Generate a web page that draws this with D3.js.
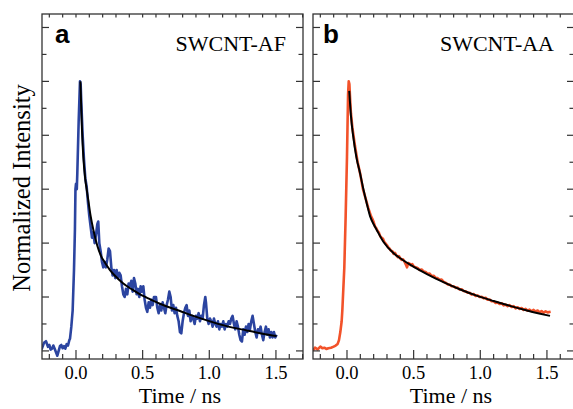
<!DOCTYPE html>
<html>
<head>
<meta charset="utf-8">
<script src="https://cdn.jsdelivr.net/npm/d3@7"></script>
<style>
  body { margin: 0; background: #fff; }
  svg { display: block; }
</style>
</head>
<body>
<div id="chart"></div>
<script>
// DATA (time in ns, normalized intensity)
const panelNames = ["SWCNT-AF", "SWCNT-AA"];
const panelLetters = ["a", "b"];
const xTickLabels = [0.0, 0.5, 1.0, 1.5];

const blueData = [
  [-0.27, 0.0], [-0.255, 0.01], [-0.24, 0.03], [-0.225, 0.036], [-0.21, 0.015], [-0.2, 0.022],
  [-0.19, 0.005], [-0.18, 0.008], [-0.17, 0.02], [-0.16, 0.008], [-0.15, -0.005], [-0.14, -0.018],
  [-0.13, 0.0], [-0.12, 0.018], [-0.11, 0.022], [-0.1, 0.01], [-0.09, 0.018], [-0.08, 0.008],
  [-0.07, 0.025], [-0.06, 0.02], [-0.05, 0.04], [-0.045, 0.045], [-0.035, 0.09], [-0.025, 0.15],
  [-0.015, 0.3], [-0.008, 0.45], [-0.004, 0.6], [0.0, 0.62], [0.006, 0.6], [0.01, 0.66],
  [0.02, 0.85], [0.03, 1.0], [0.035, 0.99], [0.04, 0.92], [0.05, 0.8], [0.06, 0.71],
  [0.07, 0.64], [0.08, 0.61], [0.09, 0.55], [0.1, 0.5], [0.11, 0.46], [0.12, 0.42],
  [0.13, 0.44], [0.14, 0.4], [0.15, 0.43], [0.16, 0.47], [0.167, 0.48], [0.175, 0.4],
  [0.185, 0.37], [0.195, 0.33], [0.205, 0.31], [0.215, 0.33], [0.225, 0.31], [0.235, 0.34],
  [0.245, 0.38], [0.255, 0.37], [0.265, 0.31], [0.275, 0.28], [0.285, 0.3], [0.295, 0.27],
  [0.305, 0.3], [0.315, 0.27], [0.325, 0.29], [0.335, 0.28], [0.345, 0.24], [0.355, 0.21],
  [0.365, 0.2], [0.375, 0.23], [0.385, 0.21], [0.395, 0.25], [0.405, 0.24], [0.415, 0.26],
  [0.425, 0.22], [0.435, 0.27], [0.445, 0.25], [0.455, 0.21], [0.465, 0.23], [0.475, 0.2],
  [0.485, 0.24], [0.495, 0.22], [0.505, 0.24], [0.515, 0.19], [0.525, 0.16], [0.535, 0.145],
  [0.545, 0.18], [0.555, 0.16], [0.565, 0.19], [0.575, 0.17], [0.585, 0.2], [0.6, 0.2],
  [0.61, 0.16], [0.62, 0.14], [0.63, 0.17], [0.64, 0.15], [0.65, 0.18], [0.66, 0.16],
  [0.67, 0.14], [0.68, 0.17], [0.69, 0.19], [0.7, 0.22], [0.71, 0.2], [0.72, 0.15],
  [0.73, 0.17], [0.74, 0.14], [0.75, 0.16], [0.76, 0.13], [0.77, 0.11], [0.78, 0.07],
  [0.79, 0.065], [0.8, 0.11], [0.81, 0.14], [0.82, 0.16], [0.83, 0.17], [0.84, 0.13],
  [0.85, 0.15], [0.86, 0.11], [0.87, 0.13], [0.88, 0.12], [0.89, 0.1], [0.9, 0.13],
  [0.91, 0.12], [0.92, 0.14], [0.93, 0.11], [0.94, 0.13], [0.95, 0.12], [0.96, 0.17],
  [0.97, 0.2], [0.975, 0.18], [0.985, 0.12], [0.995, 0.1], [1.005, 0.12], [1.015, 0.11],
  [1.025, 0.09], [1.035, 0.12], [1.045, 0.1], [1.055, 0.09], [1.065, 0.11], [1.075, 0.08],
  [1.085, 0.1], [1.095, 0.09], [1.105, 0.11], [1.115, 0.08], [1.125, 0.1], [1.135, 0.09],
  [1.145, 0.11], [1.155, 0.1], [1.165, 0.12], [1.175, 0.13], [1.185, 0.1], [1.195, 0.08],
  [1.205, 0.11], [1.215, 0.09], [1.225, 0.06], [1.235, 0.04], [1.245, 0.035], [1.255, 0.08],
  [1.265, 0.06], [1.275, 0.09], [1.285, 0.07], [1.295, 0.1], [1.305, 0.08], [1.315, 0.11],
  [1.325, 0.13], [1.335, 0.1], [1.345, 0.07], [1.355, 0.05], [1.365, 0.08], [1.375, 0.07],
  [1.385, 0.09], [1.395, 0.06], [1.405, 0.04], [1.415, 0.07], [1.425, 0.09], [1.435, 0.06],
  [1.445, 0.08], [1.455, 0.05], [1.465, 0.07], [1.475, 0.05], [1.485, 0.07], [1.495, 0.05],
  [1.505, 0.06]
];

const blueFit = [
  [0.033, 1.0], [0.045, 0.82], [0.055, 0.72], [0.07, 0.635], [0.08, 0.6], [0.092, 0.56],
  [0.11, 0.5], [0.13, 0.45], [0.16, 0.39], [0.19, 0.35], [0.205, 0.337], [0.255, 0.3],
  [0.3, 0.275], [0.355, 0.25], [0.42, 0.228], [0.48, 0.21], [0.53, 0.198], [0.63, 0.175],
  [0.78, 0.148], [0.88, 0.13], [1.03, 0.106], [1.13, 0.092], [1.28, 0.076], [1.4, 0.064],
  [1.505, 0.055]
];

const orangeData = [
  [-0.27, 0.0], [-0.25, 0.005], [-0.24, 0.012], [-0.22, 0.006], [-0.2, 0.016], [-0.185, 0.01],
  [-0.17, 0.012], [-0.155, 0.007], [-0.14, 0.01], [-0.12, 0.012], [-0.1, 0.016], [-0.085, 0.02],
  [-0.07, 0.026], [-0.06, 0.04], [-0.05, 0.07], [-0.04, 0.11], [-0.035, 0.15], [-0.02, 0.31],
  [-0.01, 0.5], [0.0, 0.72], [0.008, 0.95], [0.013, 1.0], [0.018, 0.99], [0.025, 0.92],
  [0.03, 0.88], [0.04, 0.83], [0.06, 0.76], [0.08, 0.7], [0.1, 0.655], [0.12, 0.6],
  [0.14, 0.565], [0.16, 0.53], [0.18, 0.5], [0.19, 0.49], [0.2, 0.478], [0.21, 0.462],
  [0.22, 0.455], [0.23, 0.445], [0.24, 0.438], [0.25, 0.425], [0.26, 0.42], [0.27, 0.416],
  [0.28, 0.404], [0.29, 0.398], [0.3, 0.392], [0.31, 0.384], [0.32, 0.379], [0.33, 0.372],
  [0.34, 0.37], [0.35, 0.36], [0.36, 0.364], [0.37, 0.355], [0.38, 0.348], [0.39, 0.352],
  [0.4, 0.343], [0.41, 0.338], [0.42, 0.34], [0.43, 0.333], [0.44, 0.322], [0.45, 0.31],
  [0.46, 0.326], [0.47, 0.324], [0.48, 0.318], [0.49, 0.322], [0.5, 0.314], [0.515, 0.31],
  [0.53, 0.308], [0.545, 0.3], [0.56, 0.302], [0.575, 0.295], [0.59, 0.293], [0.605, 0.286],
  [0.62, 0.287], [0.635, 0.278], [0.65, 0.279], [0.665, 0.271], [0.68, 0.27], [0.695, 0.264],
  [0.71, 0.265], [0.725, 0.256], [0.74, 0.253], [0.755, 0.247], [0.77, 0.246], [0.785, 0.24],
  [0.8, 0.24], [0.815, 0.234], [0.83, 0.235], [0.845, 0.228], [0.86, 0.229], [0.875, 0.222],
  [0.89, 0.221], [0.905, 0.216], [0.92, 0.216], [0.935, 0.209], [0.95, 0.211], [0.965, 0.204],
  [0.98, 0.206], [0.995, 0.2], [1.01, 0.201], [1.025, 0.195], [1.04, 0.197], [1.055, 0.19],
  [1.07, 0.191], [1.085, 0.184], [1.1, 0.184], [1.115, 0.178], [1.13, 0.18], [1.145, 0.174],
  [1.16, 0.177], [1.175, 0.169], [1.19, 0.172], [1.205, 0.166], [1.22, 0.17], [1.235, 0.163],
  [1.25, 0.166], [1.265, 0.158], [1.28, 0.162], [1.295, 0.156], [1.31, 0.159], [1.325, 0.152],
  [1.34, 0.156], [1.355, 0.149], [1.37, 0.153], [1.385, 0.147], [1.4, 0.152], [1.415, 0.146],
  [1.43, 0.15], [1.445, 0.143], [1.46, 0.148], [1.475, 0.142], [1.49, 0.147], [1.505, 0.143],
  [1.528, 0.145]
];

const orangeFit = [
  [0.017, 0.965], [0.03, 0.87], [0.047, 0.795], [0.07, 0.72], [0.098, 0.659], [0.123, 0.6],
  [0.148, 0.548], [0.173, 0.5], [0.2, 0.47], [0.223, 0.449], [0.273, 0.405], [0.348, 0.363],
  [0.41, 0.34], [0.473, 0.32], [0.6, 0.285], [0.723, 0.255], [0.85, 0.228], [0.973, 0.205],
  [1.1, 0.185], [1.223, 0.167], [1.35, 0.15], [1.45, 0.138], [1.523, 0.13]
];

const seriesColors = ["#2b44a0", "#f2522a"];

// LAYOUT
const W = 573, H = 409;
const panelLeft = [42, 313];
const panelWidth = 261;
const plotTop = 14, plotBottom = 359;
const frameColor = "#333";

const svg = d3.select("#chart").append("svg")
    .attr("width", W)
    .attr("height", H);

const y = d3.scaleLinear().domain([-0.03, 1.25]).range([plotBottom, plotTop]);

const panels = [
  { data: blueData, fit: blueFit, color: seriesColors[0] },
  { data: orangeData, fit: orangeFit, color: seriesColors[1] }
];

panels.forEach((p, i) => {
    const x0 = panelLeft[i];
    const x = d3.scaleLinear().domain([-0.255, 1.703]).range([x0, x0 + panelWidth]);
    const g = svg.append("g");

    // clip
    const clipId = "clip" + i;
    svg.append("clipPath").attr("id", clipId)
        .append("rect")
        .attr("x", x0).attr("y", plotTop)
        .attr("width", panelWidth).attr("height", plotBottom - plotTop);

    // data line
    const line = d3.line().x(d => x(d[0])).y(d => y(d[1]));
    g.append("path")
        .datum(p.data)
        .attr("clip-path", `url(#${clipId})`)
        .attr("fill", "none")
        .attr("stroke", p.color)
        .attr("stroke-width", 2.6)
        .attr("stroke-linejoin", "round")
        .attr("d", line);

    // fit line
    g.append("path")
        .datum(p.fit)
        .attr("fill", "none")
        .attr("stroke", "#000")
        .attr("stroke-width", 2)
        .attr("d", d3.line().x(d => x(d[0])).y(d => y(d[1])).curve(d3.curveMonotoneX));

    // frame
    g.append("rect")
        .attr("x", x0).attr("y", plotTop)
        .attr("width", panelWidth).attr("height", plotBottom - plotTop)
        .attr("fill", "none")
        .attr("stroke", frameColor)
        .attr("stroke-width", 1.3);

    // x ticks (bottom and top)
    const xTicks = d3.range(-2, 18).map(k => k / 10);
    xTicks.forEach(t => {
        const px = x(t);
        const major = Math.abs(t * 2 - Math.round(t * 2)) < 1e-6;
        g.append("line")
            .attr("x1", px).attr("x2", px)
            .attr("y1", plotBottom).attr("y2", plotBottom - (major ? 9 : 5))
            .attr("stroke", frameColor).attr("stroke-width", 1.2);
        g.append("line")
            .attr("x1", px).attr("x2", px)
            .attr("y1", plotTop).attr("y2", plotTop + 3.5)
            .attr("stroke", frameColor).attr("stroke-width", 1.2);
    });

    // y ticks (left and right)
    const yTicks = d3.range(0, 13).map(k => k / 10);
    yTicks.forEach((v, k) => {
        const py = y(v);
        const len = k % 2 === 0 ? 7 : 4.5;
        g.append("line")
            .attr("x1", x0).attr("x2", x0 + len)
            .attr("y1", py).attr("y2", py)
            .attr("stroke", frameColor).attr("stroke-width", 1.2);
        g.append("line")
            .attr("x1", x0 + panelWidth).attr("x2", x0 + panelWidth - len)
            .attr("y1", py).attr("y2", py)
            .attr("stroke", frameColor).attr("stroke-width", 1.2);
    });

    // tick labels
    g.selectAll(".xlab")
        .data(xTickLabels)
        .join("text")
        .attr("x", d => x(d))
        .attr("y", 379)
        .attr("text-anchor", "middle")
        .style("font-family", "'Liberation Serif', 'Times New Roman', serif")
        .style("font-size", "18.5px")
        .text(d => d.toFixed(1));

    // x axis title
    g.append("text")
        .attr("x", x(0.78))
        .attr("y", 403)
        .attr("text-anchor", "middle")
        .style("font-family", "'Liberation Serif', 'Times New Roman', serif")
        .style("font-size", "22px")
        .text("Time / ns");

    // panel letter
    g.append("text")
        .attr("x", x0 + (i === 0 ? 13 : 10))
        .attr("y", 43)
        .style("font-family", "'Liberation Sans', Arial, sans-serif")
        .style("font-weight", "bold")
        .style("font-size", "26px")
        .text(panelLetters[i]);

    // panel name
    g.append("text")
        .attr("x", x0 + panelWidth - (i === 0 ? 17 : 20))
        .attr("y", 51)
        .attr("text-anchor", "end")
        .style("font-family", "'Liberation Serif', 'Times New Roman', serif")
        .style("font-size", "22px")
        .text(panelNames[i]);
});

// y axis title
svg.append("text")
    .attr("transform", "translate(29.5,188) rotate(-90)")
    .attr("text-anchor", "middle")
    .style("font-family", "'Liberation Serif', 'Times New Roman', serif")
    .style("font-size", "24.5px")
    .text("Normalized Intensity");
</script>
</body>
</html>
